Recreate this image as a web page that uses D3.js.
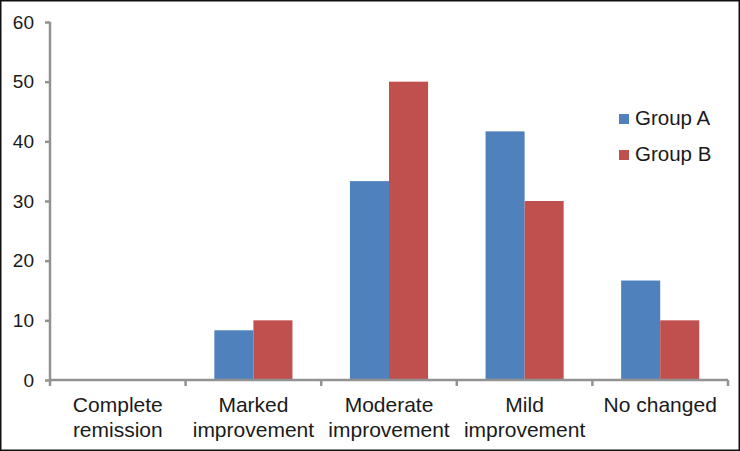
<!DOCTYPE html>
<html>
<head>
<meta charset="utf-8">
<script src="https://cdn.jsdelivr.net/npm/d3@7"></script>
<style>
  body { margin: 0; background: #fff; }
  svg { display: block; font-family: "Liberation Sans", Arial, sans-serif; }
</style>
</head>
<body>
<div id="chart"></div>
<script>
var categories = [["Complete", "remission"], ["Marked", "improvement"], ["Moderate", "improvement"], ["Mild", "improvement"], ["No changed"]];
var seriesNames = ["Group A", "Group B"];
var groupA = [0, 8.33, 33.33, 41.67, 16.67];
var groupB = [0, 10, 50, 30, 10];
var yTicks = [0, 10, 20, 30, 40, 50, 60];

var colors = ["#4f81bd", "#c0504d"];

var svgWidth = 740, svgHeight = 451;
var margin = {top: 22, right: 12, bottom: 71, left: 50};
var width = svgWidth - margin.left - margin.right;
var height = svgHeight - margin.top - margin.bottom;

var svg = d3.select("#chart").append("svg")
  .attr("width", svgWidth)
  .attr("height", svgHeight);

// outer frame
svg.append("rect")
  .attr("x", 0.75).attr("y", 0.75)
  .attr("width", svgWidth - 1.5).attr("height", svgHeight - 1.5)
  .attr("fill", "none")
  .attr("stroke", "#111")
  .attr("stroke-width", 1.5);

var g = svg.append("g")
  .attr("transform", "translate(" + margin.left + "," + margin.top + ")");

var keys = categories.map(function(c, i) { return i; });

var x0 = d3.scaleBand().domain(keys).range([0, width]).padding(0);
var bw = x0.bandwidth();
var gap = 0.212;
var x1 = d3.scaleBand().domain(seriesNames).range([bw * gap, bw * (1 - gap)]).padding(0);
var y = d3.scaleLinear().domain([0, 60]).range([height, 0]);

var data = keys.map(function(i) {
  return [groupA[i], groupB[i]];
});

// bars
var groups = g.selectAll(".cat")
  .data(data)
  .enter().append("g")
  .attr("class", "cat")
  .attr("transform", function(d, i) { return "translate(" + x0(i) + ",0)"; });

groups.selectAll("rect")
  .data(function(d) { return d.map(function(v, j) { return {name: seriesNames[j], value: v, j: j}; }); })
  .enter().append("rect")
  .attr("x", function(d) { return x1(d.name); })
  .attr("width", x1.bandwidth())
  .attr("y", function(d) { return y(d.value); })
  .attr("height", function(d) { return height - y(d.value); })
  .attr("fill", function(d) { return colors[d.j]; });

// y axis
var yAxis = g.append("g")
  .call(d3.axisLeft(y).tickValues(yTicks).tickSize(5).tickPadding(11));
yAxis.select(".domain").attr("stroke", "#929292").attr("stroke-width", 2.5)
  .attr("d", "M0," + height + "V0");
yAxis.selectAll(".tick line").attr("stroke", "#929292").attr("stroke-width", 2.5);
yAxis.selectAll(".tick text").attr("fill", "#1a1a1a").style("font-size", "19px");

// x axis with tick marks at category boundaries
var xAxis = g.append("g").attr("transform", "translate(0," + height + ")");
xAxis.append("line")
  .attr("x1", 0).attr("x2", width)
  .attr("stroke", "#929292").attr("stroke-width", 2.5);
var bounds = keys.map(function(i) { return x0(i); }).concat([width]);
xAxis.selectAll(".xt")
  .data(bounds)
  .enter().append("line")
  .attr("x1", function(d) { return d; }).attr("x2", function(d) { return d; })
  .attr("y1", 0).attr("y2", 6)
  .attr("stroke", "#929292").attr("stroke-width", 2.5);

xAxis.selectAll(".xl")
  .data(categories)
  .enter().append("text")
  .attr("text-anchor", "middle")
  .attr("fill", "#1a1a1a")
  .style("font-size", "21px")
  .attr("transform", function(d, i) { return "translate(" + (x0(i) + bw / 2) + ",0)"; })
  .selectAll("tspan")
  .data(function(d) { return d; })
  .enter().append("tspan")
  .attr("x", 0)
  .attr("y", function(d, k) { return 32 + k * 25; })
  .text(function(d) { return d; });

// legend
var legend = svg.append("g").attr("transform", "translate(619,114)");
var items = legend.selectAll(".li")
  .data(seriesNames)
  .enter().append("g")
  .attr("transform", function(d, i) { return "translate(0," + i * 36 + ")"; });
items.append("rect")
  .attr("width", 10).attr("height", 10)
  .attr("fill", function(d, i) { return colors[i]; });
items.append("text")
  .attr("x", 16).attr("y", 11)
  .attr("fill", "#1a1a1a")
  .style("font-size", "20.5px")
  .text(function(d) { return d; });
</script>
</body>
</html>
